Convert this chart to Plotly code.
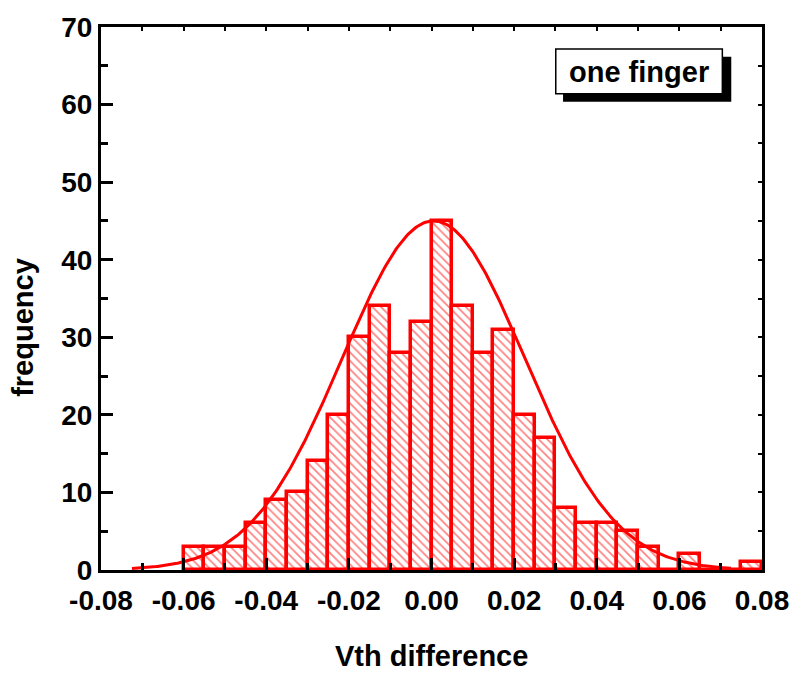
import numpy as np
import plotly.graph_objects as go

# Histogram data: bin left edges (width 0.005) and counts
bin_width = 0.005
bin_left = [round(-0.06 + i * bin_width, 4) for i in range(28)]
counts = [3, 3, 3, 6, 9, 10, 14, 20, 30, 34, 28, 32, 45, 34, 28, 31,
          20, 17, 8, 6, 6, 5, 3, 0, 2, 0, 0, 1]

# Gaussian fit parameters
fit_amp = 45.0
fit_mean = 0.0005
fit_sigma = 0.0221
fit_xmin, fit_xmax = -0.0725, 0.0725

x_ticks = [-0.08, -0.06, -0.04, -0.02, 0.0, 0.02, 0.04, 0.06, 0.08]
x_ticklabels = ["-0.08", "-0.06", "-0.04", "-0.02", "0.00", "0.02", "0.04", "0.06", "0.08"]
y_ticks = [0, 10, 20, 30, 40, 50, 60, 70]
y_ticklabels = ["0", "10", "20", "30", "40", "50", "60", "70"]

RED = "#ff0000"
FONT = dict(family="Arial, Liberation Sans, sans-serif", size=28, color="black", weight="bold")
TFONT = dict(family="Arial, Liberation Sans, sans-serif", size=29, color="black", weight="bold")

centers = [l + bin_width / 2 for l in bin_left]
fx = np.linspace(fit_xmin, fit_xmax, 400)
fy = fit_amp * np.exp(-((fx - fit_mean) ** 2) / (2 * fit_sigma ** 2))

fig = go.Figure()
fig.add_trace(go.Bar(
    x=centers, y=counts, width=bin_width,
    marker=dict(color="white",
                line=dict(color=RED, width=3.5),
                pattern=dict(shape="\\", fgcolor=RED, bgcolor="white", size=6, solidity=0.28)),
    showlegend=False, hoverinfo="skip"))
fig.add_trace(go.Scatter(x=fx, y=fy, mode="lines", line=dict(color=RED, width=3),
                         showlegend=False, hoverinfo="skip"))
# invisible trace to anchor mirror axes
fig.add_trace(go.Scatter(x=[0], y=[0], xaxis="x2", yaxis="y2", mode="markers",
                         marker=dict(opacity=0), showlegend=False, hoverinfo="skip"))

axis_common = dict(showline=True, linecolor="black", linewidth=3, showgrid=False,
                   zeroline=False, ticks="inside", tickcolor="black", tickwidth=2.5,
                   ticklen=12, tickfont=FONT)
fig.update_layout(
    width=801, height=675,
    margin=dict(l=101, r=33, t=25, b=105),
    plot_bgcolor="white", paper_bgcolor="white",
    bargap=0,
    font=FONT,
    xaxis=dict(range=[-0.08, 0.08], tickmode="array", tickvals=x_ticks, ticktext=x_ticklabels,
               ticklabelstandoff=3,
               minor=dict(dtick=0.01, tick0=0, ticks="inside", ticklen=7, tickwidth=2.5, tickcolor="black"),
               **axis_common),
    yaxis=dict(range=[0, 70], tickmode="array", tickvals=y_ticks, ticktext=y_ticklabels,
               minor=dict(dtick=5, tick0=0, ticks="inside", ticklen=7, tickwidth=2.5, tickcolor="black"),
               **axis_common),
    xaxis2=dict(overlaying="x", side="top", range=[-0.08, 0.08], dtick=0.01, tick0=0,
                ticks="inside", ticklen=4, tickwidth=2, tickcolor="black", showticklabels=False,
                showline=True, linecolor="black", linewidth=3, showgrid=False, zeroline=False),
    yaxis2=dict(overlaying="y", side="right", range=[0, 70], dtick=5, tick0=0,
                ticks="inside", ticklen=4, tickwidth=2, tickcolor="black", showticklabels=False,
                showline=True, linecolor="black", linewidth=3, showgrid=False, zeroline=False),
)

# Axis titles
fig.add_annotation(text="frequency", xref="paper", yref="paper", x=-0.118, y=0.446,
                   textangle=-90, showarrow=False, font=TFONT, xanchor="center", yanchor="middle")
fig.add_annotation(text="Vth difference", xref="paper", yref="paper", x=0.5, y=-0.158,
                   showarrow=False, font=TFONT, xanchor="center", yanchor="middle")

# Label box with shadow
fig.add_shape(type="rect", xref="paper", yref="paper", x0=0.699, x1=0.9535, y0=0.8624, y1=0.945,
              fillcolor="black", line=dict(width=0), layer="above")
fig.add_shape(type="rect", xref="paper", yref="paper", x0=0.688, x1=0.940, y0=0.877, y1=0.9596,
              fillcolor="white", line=dict(color="black", width=1.5), layer="above")
fig.add_annotation(text="one finger", xref="paper", yref="paper", x=0.814, y=0.917,
                   showarrow=False, font=TFONT, xanchor="center", yanchor="middle")

fig.write_html("out.html")
